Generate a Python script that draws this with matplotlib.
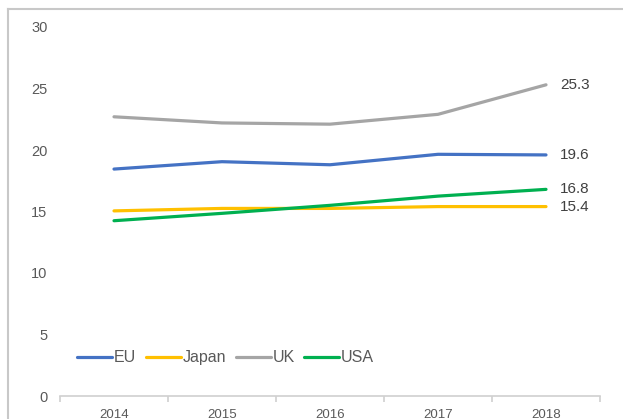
import matplotlib
matplotlib.use("Agg")
import matplotlib.pyplot as plt
from matplotlib.lines import Line2D

plt.rcParams['font.family'] = ['Liberation Sans', 'DejaVu Sans']

years = ['2014', '2015', '2016', '2017', '2018']
eu = [18.45, 19.05, 18.8, 19.65, 19.6]
japan = [15.05, 15.25, 15.25, 15.4, 15.4]
uk = [22.7, 22.2, 22.1, 22.9, 25.3]
usa = [14.25, 14.85, 15.5, 16.25, 16.8]

series = [('EU', eu, '#4472C4'),
          ('Japan', japan, '#FFC000'),
          ('UK', uk, '#A5A5A5'),
          ('USA', usa, '#00B050')]
end_labels = {'EU': '19.6', 'Japan': '15.4', 'UK': '25.3', 'USA': '16.8'}

fig = plt.figure(figsize=(6.23, 4.19), dpi=100)
ax = fig.add_axes([60/623, 1 - 396/419, 540/623, 369/419])

x = list(range(len(years)))
for name, vals, col in series:
    ax.plot(x, vals, color=col, lw=2.3, label=name, solid_capstyle='round')
    ax.annotate(end_labels[name], (x[-1], vals[-1]), xytext=(10, 0),
                textcoords='offset points', va='center', ha='left',
                fontsize=11, color='#404040')

ax.set_xlim(-0.5, 4.5)
ax.set_ylim(0, 30)
ax.set_yticks([0, 5, 10, 15, 20, 25, 30])
ax.set_xticks(x)
ax.set_xticklabels(years)
ax.set_xticks([i - 0.5 for i in range(len(years) + 1)], minor=True)

for s in ['top', 'right', 'left']:
    ax.spines[s].set_visible(False)
ax.spines['bottom'].set_color('#d0d0d0')
ax.spines['bottom'].set_linewidth(1.2)

ax.tick_params(axis='y', length=0, pad=9, labelsize=10.5, labelcolor='#595959')
ax.tick_params(axis='x', which='major', length=0, pad=9, labelsize=9.5, labelcolor='#595959')
ax.tick_params(axis='x', which='minor', length=4, color='#d0d0d0', width=1.2)

leg = ax.legend(loc='center left', bbox_to_anchor=(0.02, 3.1/30), ncol=4,
                frameon=False, fontsize=11.5, handlelength=2.2, handletextpad=0.1,
                columnspacing=0.6, borderaxespad=0)
for t in leg.get_texts():
    t.set_color('#595959')

# outer chart frame (only top and left edges visible)
fig.add_artist(Line2D([8/623, 8/623], [0, 1 - 9/419], transform=fig.transFigure,
                      color='#c8c8c8', lw=1.5))
fig.add_artist(Line2D([8/623, 1], [1 - 9/419, 1 - 9/419], transform=fig.transFigure,
                      color='#c8c8c8', lw=1.5))

fig.savefig('out.png', dpi=100)
